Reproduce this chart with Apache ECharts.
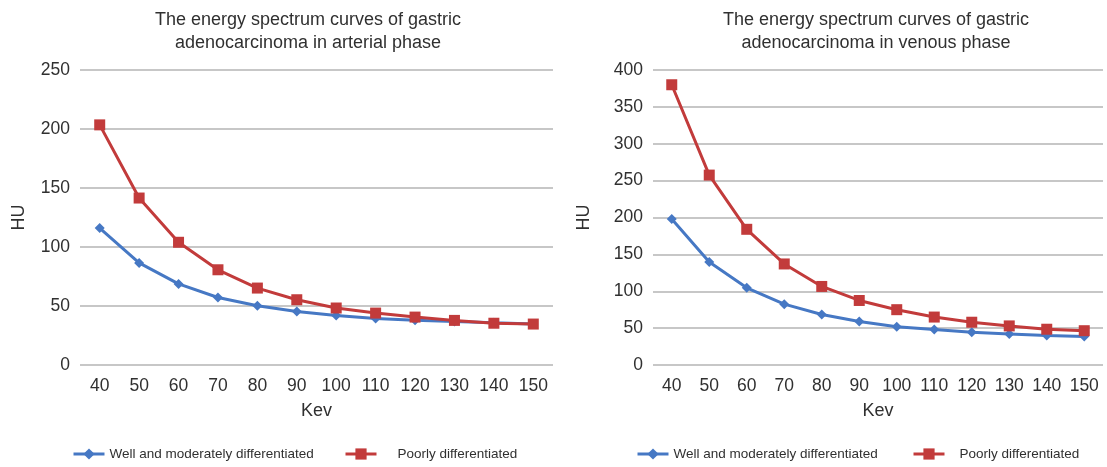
<!DOCTYPE html>
<html>
<head>
<meta charset="utf-8">
<script src="https://cdn.jsdelivr.net/npm/echarts@6/dist/echarts.min.js"></script>
<style>
html,body{margin:0;padding:0;background:#fff;}
#main{width:1107px;height:467px;}
</style>
</head>
<body>
<div id="main"></div>
<script>
const kevCategories = ['40','50','60','70','80','90','100','110','120','130','140','150'];
const arterialWell = [116, 86.5, 68.7, 57.2, 50.2, 45.3, 41.9, 39.4, 38, 36.8, 35.7, 34.8];
const arterialPoor = [203.5, 141.5, 104, 80.7, 65.2, 55.3, 48.3, 44, 40.6, 37.8, 35.4, 34.7];
const venousWell = [198, 139.6, 104.7, 82.5, 68.5, 59, 52, 48, 44.4, 42.2, 40, 38.5];
const venousPoor = [380, 257.5, 184, 137, 106.5, 87.5, 75, 65, 58, 53, 48.5, 46.5];
const seriesNames = ['Well and moderately differentiated', 'Poorly differentiated'];
const titleArterial = 'The energy spectrum curves of gastric\nadenocarcinoma in arterial phase';
const titleVenous = 'The energy spectrum curves of gastric\nadenocarcinoma in venous phase';

const FONT = 'Liberation Sans, Arial, Helvetica, sans-serif';
const BLUE = '#4678c4';
const RED = '#c23b3b';
const GRIDC = '#b5b5b5';
const TXT = '#303030';

function xAxis(gi) {
  return {
    type: 'category', gridIndex: gi, data: kevCategories, boundaryGap: true,
    name: 'Kev', nameLocation: 'middle', nameGap: 37,
    nameTextStyle: {fontFamily: FONT, fontSize: 18, color: TXT},
    axisLine: {show: false}, axisTick: {show: false},
    axisLabel: {fontFamily: FONT, fontSize: 17.5, color: TXT, margin: 12, interval: 0}
  };
}
function yAxis(gi, max, gap) {
  return {
    type: 'value', gridIndex: gi, min: 0, max: max, interval: 50,
    name: 'HU', nameLocation: 'middle', nameGap: gap,
    nameTextStyle: {fontFamily: FONT, fontSize: 18, color: TXT},
    axisLine: {show: false}, axisTick: {show: false},
    axisLabel: {fontFamily: FONT, fontSize: 17.5, color: TXT, margin: 10},
    splitLine: {lineStyle: {color: GRIDC, width: 1.6}}
  };
}
function lineSeries(name, data, gi, color, symbol, size) {
  return {
    type: 'line', name: name, xAxisIndex: gi, yAxisIndex: gi, data: data,
    symbol: symbol, symbolSize: size, showAllSymbol: true,
    lineStyle: {color: color, width: 3},
    itemStyle: {color: color},
    emphasis: {disabled: true}, animation: false, z: name === seriesNames[1] ? 3 : 2
  };
}
function legend(left, name, pad) {
  return {
    left: left, top: 447, padding: 0, itemWidth: 31, itemHeight: 14, itemGap: 0,
    data: [name], selectedMode: false,
    lineStyle: {width: 3},
    textStyle: {fontFamily: FONT, fontSize: 13.5, color: TXT, padding: [0, 0, 0, pad]}
  };
}

const chart = echarts.init(document.getElementById('main'), null, {renderer: 'canvas'});
chart.setOption({
  animation: false,
  backgroundColor: '#fff',
  title: [
    {text: titleArterial, left: 308, top: 9, textAlign: 'center', padding: 0,
     textStyle: {fontFamily: FONT, fontSize: 18, fontWeight: 'normal', color: TXT, lineHeight: 23}},
    {text: titleVenous, left: 876, top: 9, textAlign: 'center', padding: 0,
     textStyle: {fontFamily: FONT, fontSize: 18, fontWeight: 'normal', color: TXT, lineHeight: 23}}
  ],
  grid: [
    {left: 80, right: 554, top: 70, bottom: 102},
    {left: 653, right: 4, top: 70, bottom: 102}
  ],
  xAxis: [xAxis(0), xAxis(1)],
  yAxis: [yAxis(0, 250, 52), yAxis(1, 400, 60)],
  legend: [
    legend(72, seriesNames[0], 0),
    legend(344, seriesNames[1], 16),
    legend(636, seriesNames[0], 0),
    legend(912, seriesNames[1], 10)
  ],
  series: [
    lineSeries(seriesNames[0], arterialWell, 0, BLUE, 'diamond', 10),
    lineSeries(seriesNames[1], arterialPoor, 0, RED, 'rect', 11),
    lineSeries(seriesNames[0], venousWell, 1, BLUE, 'diamond', 10),
    lineSeries(seriesNames[1], venousPoor, 1, RED, 'rect', 11)
  ]
});
</script>
</body>
</html>
